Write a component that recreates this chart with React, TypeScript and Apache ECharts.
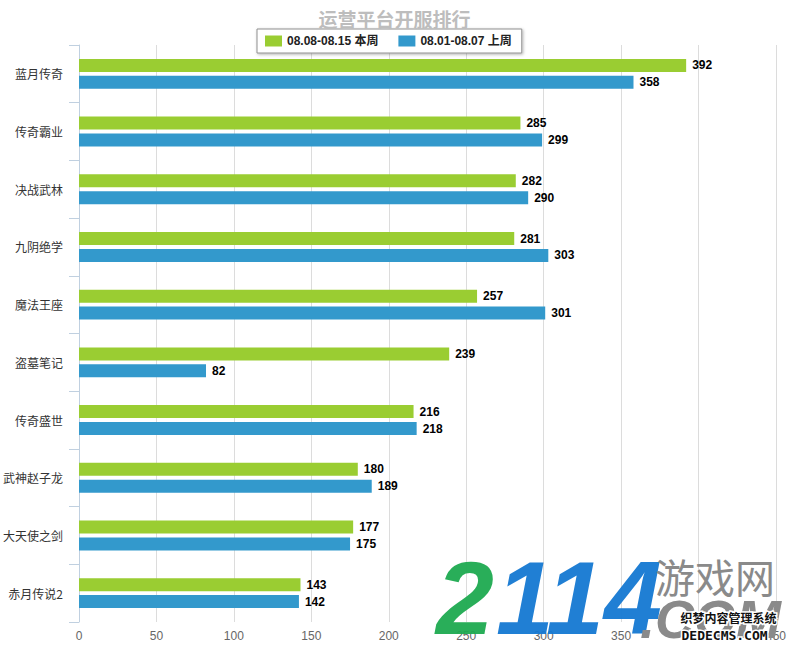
import React, { useEffect, useRef } from "react";
import * as echarts from "echarts";

const categories = ["蓝月传奇", "传奇霸业", "决战武林", "九阴绝学", "魔法王座", "盗墓笔记", "传奇盛世", "武神赵子龙", "大天使之剑", "赤月传说2"];
const thisWeek = [392, 285, 282, 281, 257, 239, 216, 180, 177, 143];
const lastWeek = [358, 299, 290, 303, 301, 82, 218, 189, 175, 142];
const seriesNames = ["08.08-08.15 本周", "08.01-08.07 上周"];
const titleText = "运营平台开服排行";

export default function App() {
  const ref = useRef<HTMLDivElement>(null);
  useEffect(() => {
    const chart = echarts.init(ref.current!, null, { renderer: "svg" });
    const labelStyle = {
      show: true,
      position: "right" as const,
      distance: 6,
      color: "#000",
      fontWeight: "bold" as const,
      fontSize: 12,
      fontFamily: "Liberation Sans, Arial, sans-serif",
    };
    chart.setOption({
      animation: false,
      backgroundColor: "#fff",
      title: {
        text: titleText,
        left: "center",
        top: 4,
        textStyle: { color: "#bdbdbd", fontSize: 19, fontWeight: "bold", fontFamily: "Noto Sans CJK SC" },
      },
      legend: {
        data: seriesNames,
        top: 29,
        left: 257,
        itemWidth: 17,
        itemHeight: 11,
        itemGap: 20,
        padding: [6, 10, 6, 8],
        borderColor: "#909090",
        borderWidth: 1,
        backgroundColor: "#fff",
        shadowBlur: 3,
        shadowColor: "rgba(0,0,0,0.3)",
        shadowOffsetX: 1,
        shadowOffsetY: 1,
        icon: "rect",
        textStyle: { color: "#222", fontWeight: "bold", fontSize: 12, fontFamily: "Liberation Sans, Noto Sans CJK SC" },
      },
      grid: { left: 77, right: 7, top: 45, bottom: 24, containLabel: false },
      xAxis: {
        type: "value",
        min: 0,
        max: 450,
        interval: 50,
        axisLine: { show: false },
        axisTick: { show: false },
        splitLine: { show: true, lineStyle: { color: "#dcdcdc", width: 1 } },
        axisLabel: { color: "#666", fontSize: 12, margin: 8, fontFamily: "Liberation Sans, Arial" },
      },
      yAxis: {
        type: "category",
        data: categories,
        inverse: true,
        axisLine: { show: true, lineStyle: { color: "#C0D0E0" } },
        axisTick: { show: true, length: 10, lineStyle: { color: "#C0D0E0" } },
        splitLine: { show: false },
        axisLabel: { color: "#333", fontSize: 12, margin: 16, fontFamily: "Noto Sans CJK SC" },
      },
      series: [
        {
          name: seriesNames[0],
          type: "bar",
          data: thisWeek,
          barWidth: 13,
          barGap: "30%",
          itemStyle: { color: "#9ACD32" },
          label: labelStyle,
        },
        {
          name: seriesNames[1],
          type: "bar",
          data: lastWeek,
          barWidth: 13,
          barGap: "30%",
          itemStyle: { color: "#3399CC" },
          label: labelStyle,
        },
      ],
      graphic: [
        {
          type: "text",
          left: 436,
          top: 546,
          z: 100,
          style: {
            text: "2",
            fontSize: 104,
            lineHeight: 86,
            fontStyle: "italic",
            fontWeight: "bold",
            fontFamily: "Liberation Sans Narrow, Liberation Sans",
            fill: "rgba(30,170,80,0.95)",
          },
        },
        {
          type: "text",
          left: 496,
          top: 546,
          z: 100,
          style: {
            text: "114",
            fontSize: 104,
            lineHeight: 86,
            fontStyle: "italic",
            fontWeight: "bold",
            fontFamily: "Liberation Sans Narrow, Liberation Sans",
            fill: "rgba(20,120,210,0.95)",
          },
        },
        {
          type: "text",
          left: 655,
          top: 556,
          z: 100,
          style: { text: "游戏网", fontSize: 40, fontFamily: "Noto Sans CJK SC", fill: "#8a8a8a" },
        },
        {
          type: "text",
          left: 640,
          top: 592,
          z: 100,
          style: { text: ".COM", fontSize: 54, lineHeight: 46, fontStyle: "italic", fontWeight: "bold", fontFamily: "Liberation Sans", fill: "#8a8a8a" },
        },
        {
          type: "text",
          left: 679,
          top: 610,
          z: 101,
          style: { text: "织梦内容管理系统", fontSize: 12, fontWeight: "bold", fontFamily: "Noto Sans CJK SC", fill: "#111", stroke: "#fff", lineWidth: 3 },
        },
        {
          type: "text",
          left: 680,
          top: 627,
          z: 101,
          style: { text: "DEDECMS.COM", fontSize: 13, fontWeight: "bold", fontFamily: "DejaVu Sans Mono", fill: "#111", stroke: "#fff", lineWidth: 3 },
        },
      ],
    });
    return () => chart.dispose();
  }, []);
  return <div ref={ref} style={{ width: 789, height: 646, position: "absolute", left: 0, top: 0 }} />;
}
